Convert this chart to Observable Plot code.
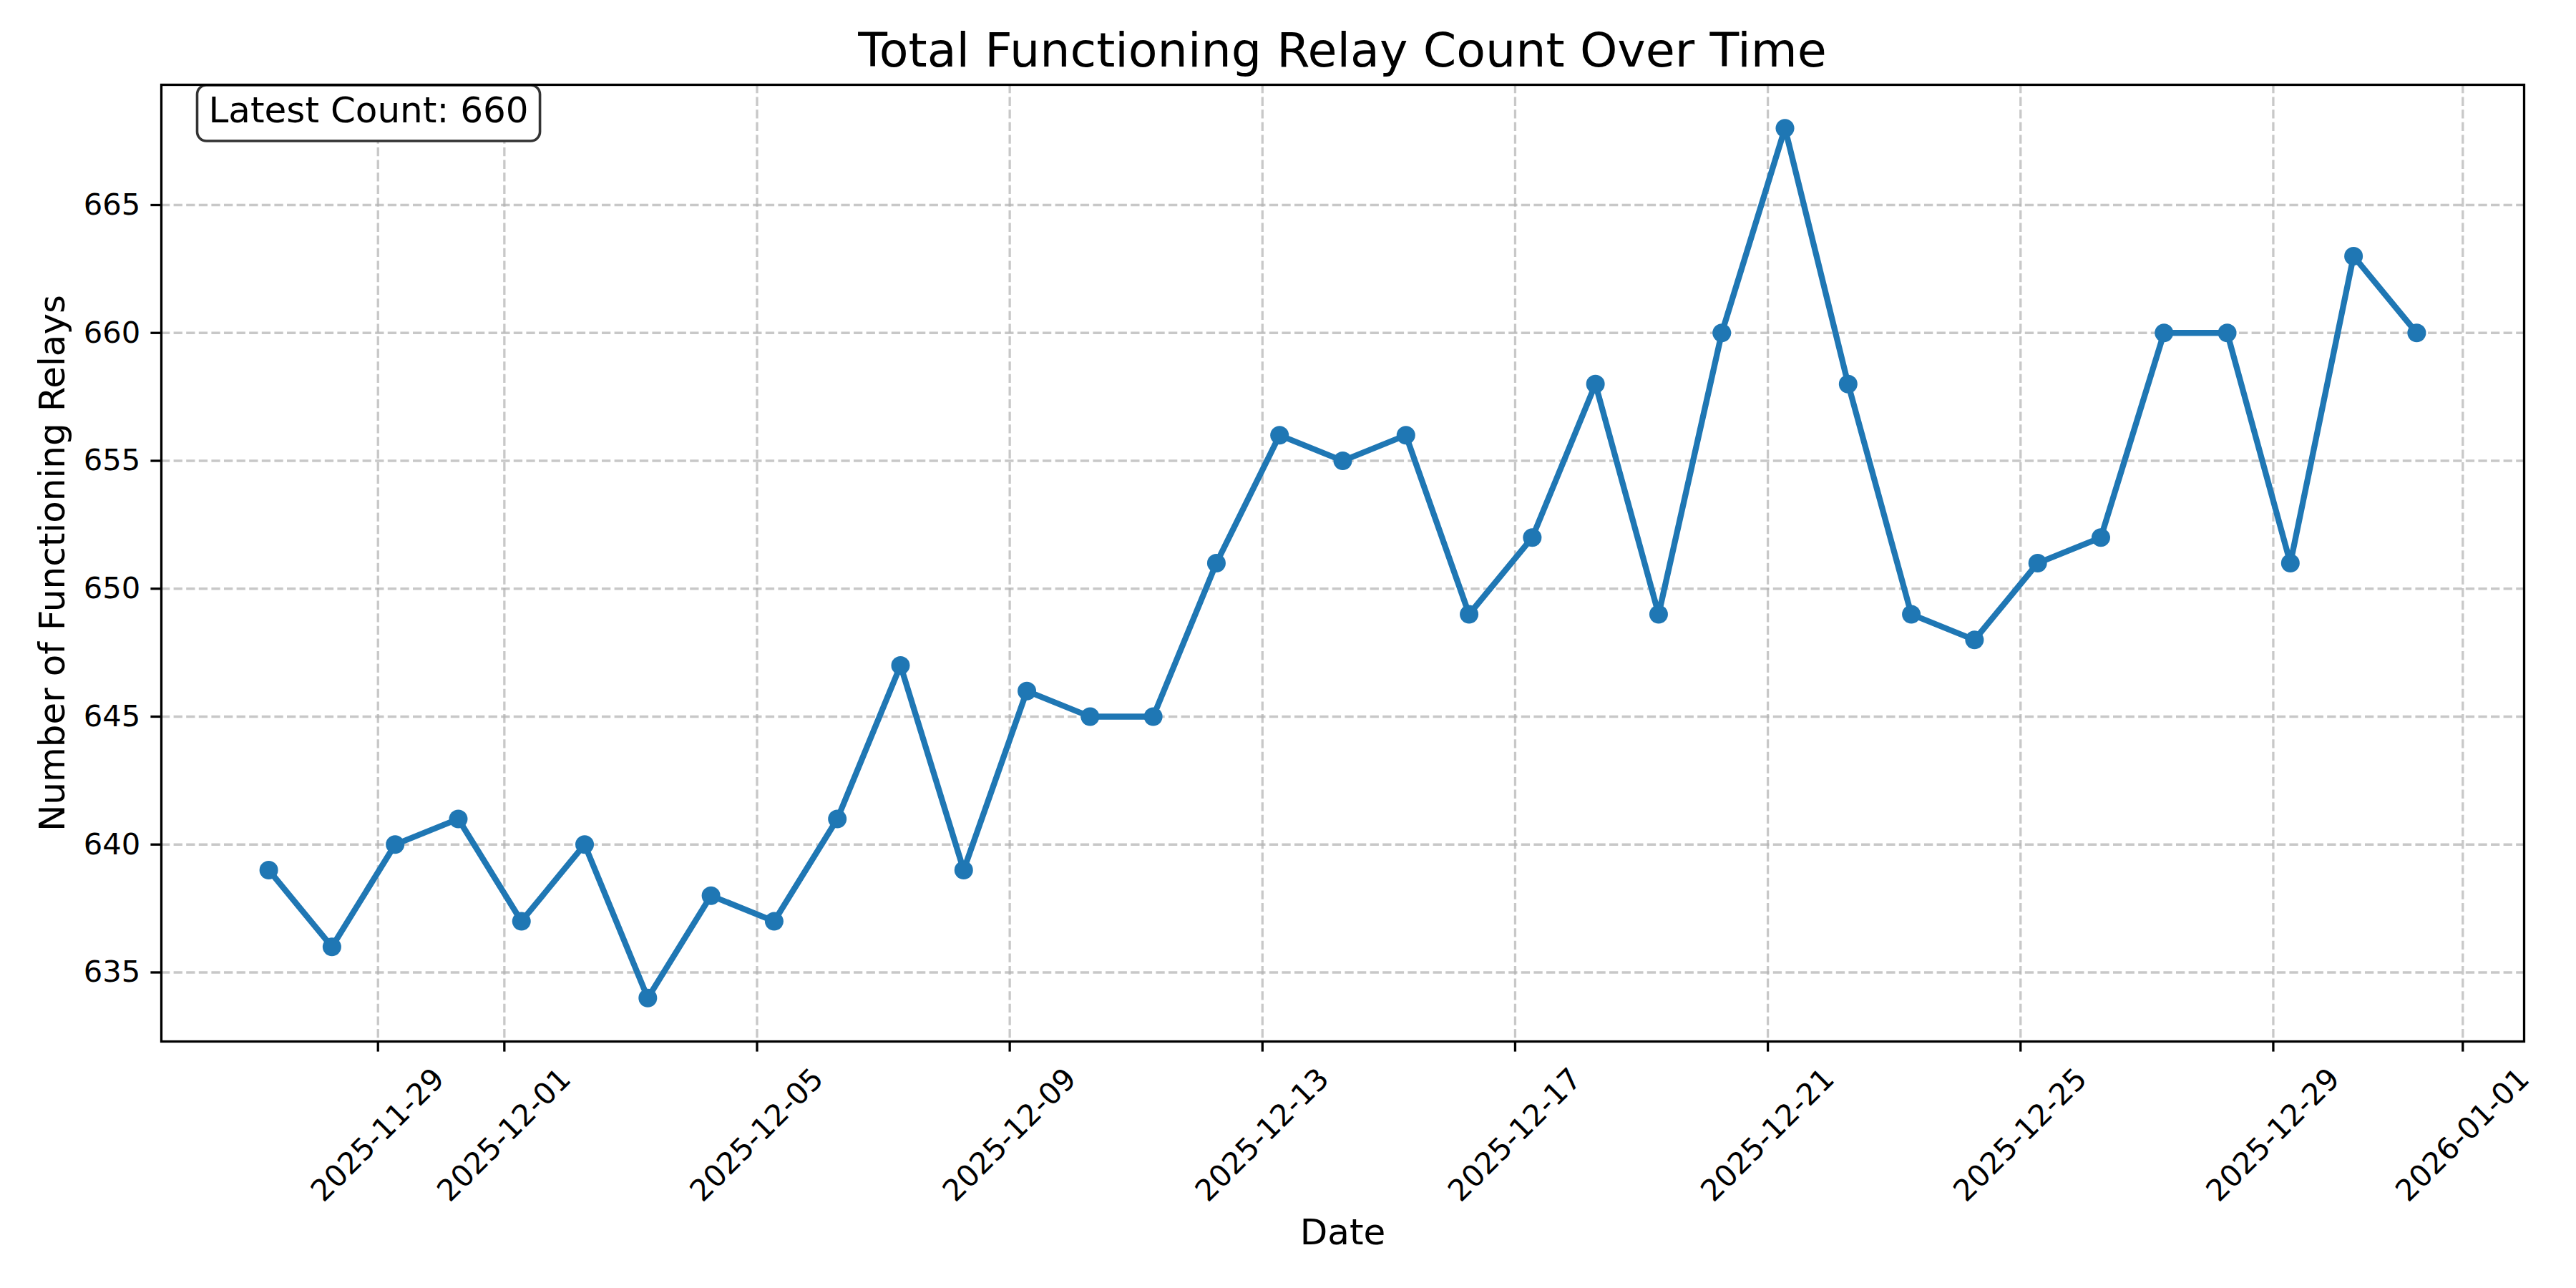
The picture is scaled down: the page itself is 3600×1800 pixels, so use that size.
<!DOCTYPE html>
<html><head><meta charset="utf-8">
<script src="https://cdn.jsdelivr.net/npm/d3@7"></script>
<script src="https://cdn.jsdelivr.net/npm/@observablehq/plot@0.6"></script>
<style>
html,body{margin:0;padding:0;background:#fff;}
body{width:3600px;height:1800px;overflow:hidden;font-family:"DejaVu Sans",sans-serif;}
#title{box-sizing:border-box;height:100px;padding:36.5px 73px 0 225px;font-size:66.7px;line-height:1;text-align:center;white-space:nowrap;color:#000;}
</style></head><body>
<div id="title"></div>
<div id="chart"></div>
<script>
const dates = [
  "2025-11-27","2025-11-28","2025-11-29","2025-11-30","2025-12-01","2025-12-02","2025-12-03",
  "2025-12-04","2025-12-05","2025-12-06","2025-12-07","2025-12-08","2025-12-09","2025-12-10",
  "2025-12-11","2025-12-12","2025-12-13","2025-12-14","2025-12-15","2025-12-16","2025-12-17",
  "2025-12-18","2025-12-19","2025-12-20","2025-12-21","2025-12-22","2025-12-23","2025-12-24",
  "2025-12-25","2025-12-26","2025-12-27","2025-12-28","2025-12-29","2025-12-30","2025-12-31"
];
const counts = [
  639, 636, 640, 641, 637, 640, 634,
  638, 637, 641, 647, 639, 646, 645,
  645, 651, 656, 655, 656, 649, 652,
  658, 649, 660, 668, 658, 649, 648,
  651, 652, 660, 660, 651, 663, 660
];
const sampleTime = "T06:30:00Z";
const xTickLabels = ["2025-11-29","2025-12-01","2025-12-05","2025-12-09","2025-12-13","2025-12-17","2025-12-21","2025-12-25","2025-12-29","2026-01-01"];
const yTicks = [635, 640, 645, 650, 655, 660, 665];
const titleText = "Total Functioning Relay Count Over Time";
const xLabel = "Date";
const yLabel = "Number of Functioning Relays";
const latestPrefix = "Latest Count: ";

const data = dates.map((d, i) => ({date: new Date(d + sampleTime), count: counts[i]}));
const xTicks = xTickLabels.map(s => new Date(s + "T00:00:00Z"));
const tickRows = xTickLabels.map((s, i) => ({date: xTicks[i], label: s}));

// matplotlib-like 5% margins
const t0 = +data[0].date, t1 = +data[data.length - 1].date;
const tm = (t1 - t0) * 0.05;
const ymin = d3.min(counts), ymax = d3.max(counts);
const ym = (ymax - ymin) * 0.05;

document.getElementById("title").textContent = titleText;

const FS_TICK = 41.7, FS_LABEL = 50;
const gridStyle = {stroke: "#b0b0b0", strokeOpacity: 0.7, strokeWidth: 3.3, strokeDasharray: "12.3,5.3"};

const chart = Plot.plot({
  width: 3600,
  height: 1700,
  marginTop: 18,
  marginBottom: 345,
  marginLeft: 225,
  marginRight: 73,
  style: {fontFamily: "DejaVu Sans, sans-serif", background: "#fff", color: "#000", overflow: "visible"},
  x: {type: "utc", domain: [new Date(t0 - tm), new Date(t1 + tm)], axis: null},
  y: {domain: [ymin - ym, ymax + ym], axis: null},
  marks: [
    Plot.gridX(xTicks, gridStyle),
    Plot.gridY(yTicks, gridStyle),
    Plot.line(data, {x: "date", y: "count", stroke: "#1f77b4", strokeWidth: 8.3, strokeLinejoin: "round", strokeLinecap: "butt"}),
    Plot.dot(data, {x: "date", y: "count", r: 13, fill: "#1f77b4", stroke: "none"}),
    Plot.axisX({ticks: xTicks, tickSize: 14.6, strokeWidth: 3.3, stroke: "#000", tickFormat: () => "", label: null}),
    Plot.axisY({ticks: yTicks, tickSize: 14.6, tickPadding: 14.6, strokeWidth: 3.3, stroke: "#000", fontSize: FS_TICK, fill: "#000", label: null}),
    Plot.text(tickRows, {x: "date", text: "label", frameAnchor: "bottom", dy: 131, rotate: -45, textAnchor: "middle", lineAnchor: "middle", fontSize: FS_TICK, fill: "#000"}),
    Plot.text([xLabel], {frameAnchor: "bottom", dy: 267, textAnchor: "middle", lineAnchor: "middle", fontSize: FS_LABEL, fill: "#000"}),
    Plot.text([yLabel], {frameAnchor: "left", dx: -152, rotate: -90, textAnchor: "middle", lineAnchor: "middle", fontSize: FS_LABEL, fill: "#000"}),
    Plot.text([latestPrefix + counts[counts.length - 1]], {frameAnchor: "top-left", dx: 66, dy: 17, textAnchor: "start", lineAnchor: "top", fontSize: FS_LABEL, fill: "#000"}),
    Plot.frame({stroke: "#000", strokeWidth: 3.3})
  ]
});
document.getElementById("chart").appendChild(chart);

// rounded box behind the "Latest Count" annotation
const ns = "http://www.w3.org/2000/svg";
for (const t of chart.querySelectorAll("text")) {
  if (t.textContent.startsWith(latestPrefix)) {
    const bb = t.getBBox();
    const rect = document.createElementNS(ns, "rect");
    rect.setAttribute("x", bb.x - 16);
    rect.setAttribute("y", bb.y - 6);
    rect.setAttribute("width", bb.width + 32);
    rect.setAttribute("height", bb.height + 20);
    rect.setAttribute("rx", 13);
    rect.setAttribute("ry", 13);
    rect.setAttribute("fill", "#fff");
    rect.setAttribute("stroke", "#333");
    rect.setAttribute("stroke-width", 3.6);
    const tr = t.getAttribute("transform");
    if (tr) rect.setAttribute("transform", tr);
    t.parentNode.insertBefore(rect, t);
  }
}
</script>
</body></html>
